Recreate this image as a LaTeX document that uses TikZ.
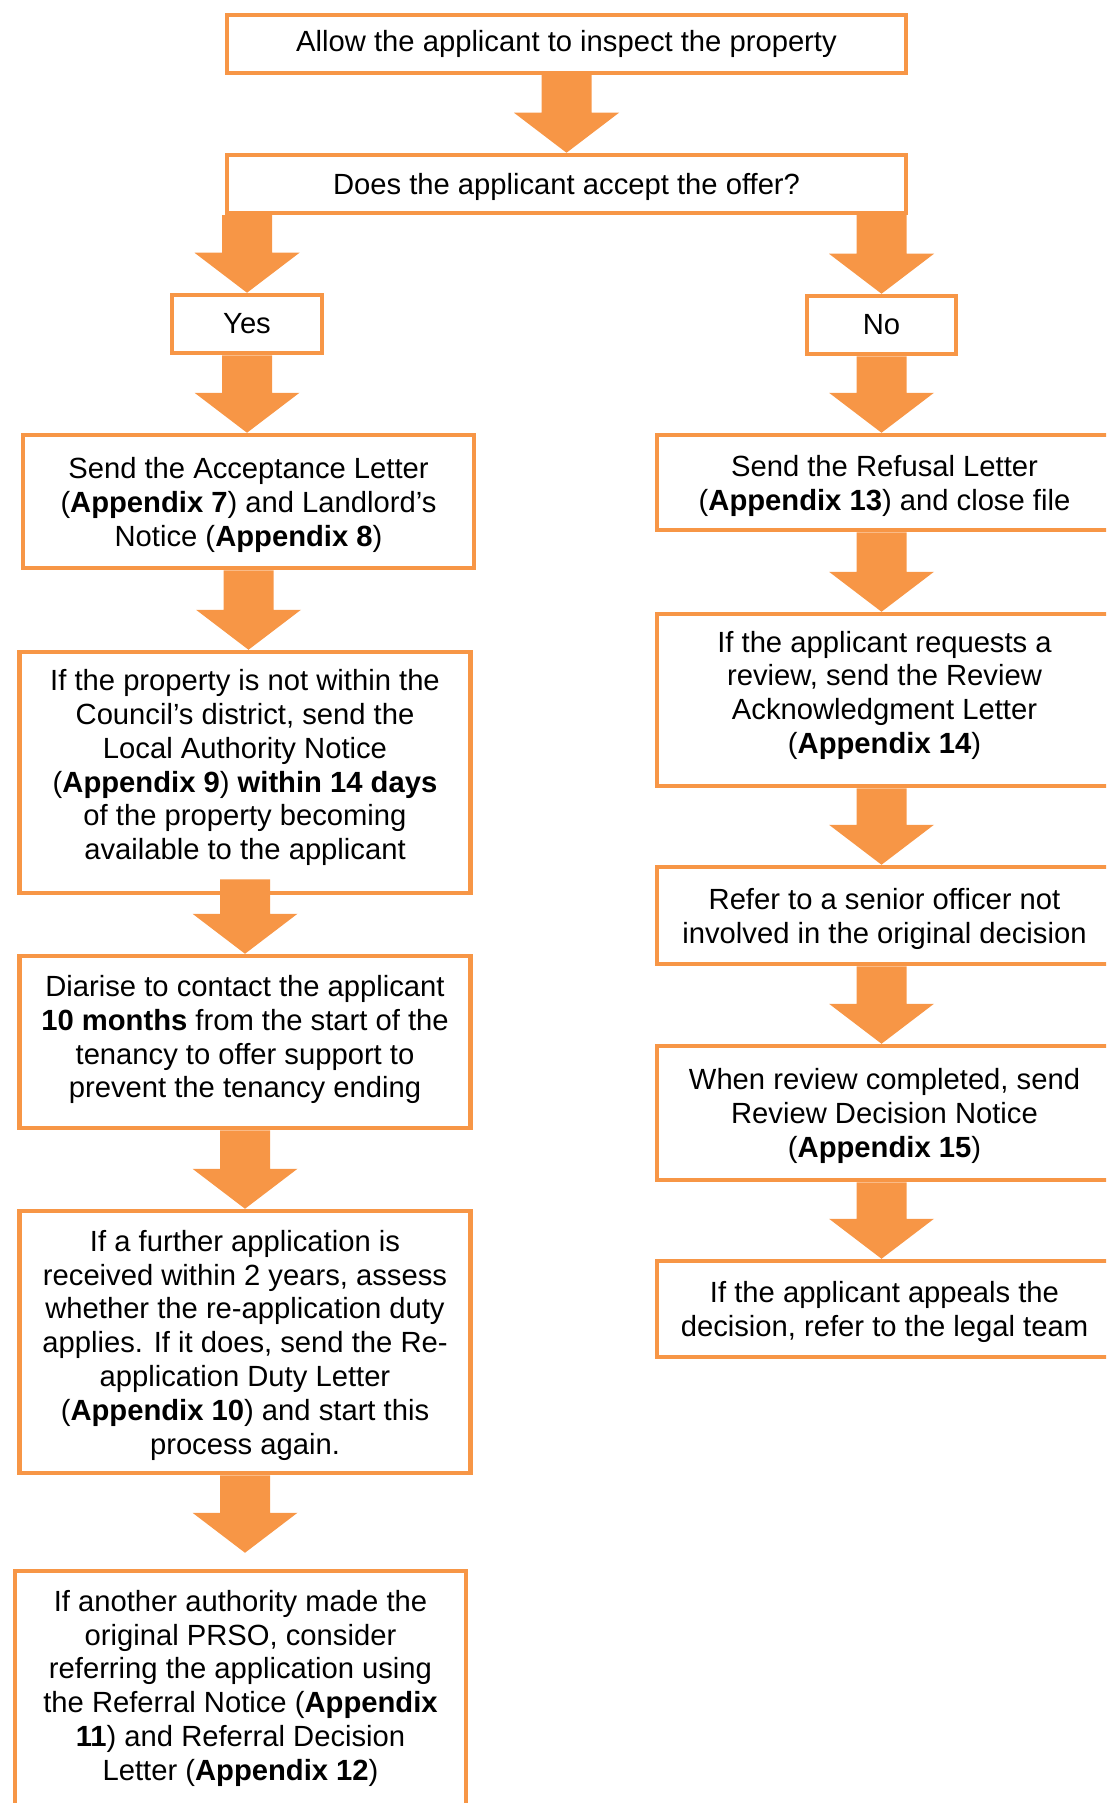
\documentclass[tikz,border=0pt]{standalone}
\usepackage{fontspec}
\setmainfont{Liberation Sans}
\usetikzlibrary{calc}
\definecolor{boxorange}{HTML}{F79646}
\newcommand{\textlift}[1]{\rule[-#1pt]{0pt}{#1pt}}
\newcommand{\textdrop}{\rule{0pt}{27.5pt}}

\tikzset{
  box/.style={draw=boxorange, line width=4.5pt, fill=white, align=center,
    inner sep=0pt, font=\fontsize{29.2}{33.8}\selectfont},
  step box/.style={box, minimum width=451pt},
  flow/.style={fill=boxorange, to path={let \p1=(\tikztostart), \p2=(\tikztotarget) in
    (\x1-25,\y1) -- (\x1-25,\y2+40) -- (\x1-52.5,\y2+40) -- (\x1,\y2)
    -- (\x1+52.5,\y2+40) -- (\x1+25,\y2+40) -- (\x1+25,\y1) -- cycle}}
}

\begin{document}
\begin{tikzpicture}[x=1pt,y=-1pt]
  \useasboundingbox (0,0) rectangle (1106,1803);
  \clip (0,0) rectangle (1106,1803);
  % top of the chart
  \node[box, minimum width=679pt, minimum height=58pt] (inspect) at (566.5,44) {Allow the applicant to inspect the property};
  \node[box, minimum width=679pt, minimum height=58pt] (offer) at (566.5,184) {\textdrop Does the applicant accept the offer?};
  \node[box, minimum width=150pt, minimum height=58pt] (yes) at (247,324) {Yes};
  \node[box, minimum width=149pt, minimum height=58pt] (no) at (881.5,325) {No};
  % yes side
  \node[step box, minimum height=133pt] (accept) at (248.5,501.5) {\textdrop Send the Acceptance Letter\\(\textbf{Appendix 7}) and Landlord’s\\Notice (\textbf{Appendix 8})};
  \node[step box, minimum height=241pt] (district) at (245,772.5) {\textdrop If the property is not within the\\Council’s district, send the\\Local Authority Notice\\(\textbf{Appendix 9}) \textbf{within 14 days}\\of the property becoming\\available to the applicant\textlift{22}};
  \node[step box, minimum height=172pt] (diarise) at (245,1042) {\textdrop Diarise to contact the applicant\\\textbf{10 months} from the start of the\\tenancy to offer support to\\prevent the tenancy ending\textlift{17}};
  \node[step box, minimum height=262pt] (reapply) at (245,1342) {\textdrop If a further application is\\received within 2 years, assess\\whether the re-application duty\\applies. If it does, send the Re-\\application Duty Letter\\(\textbf{Appendix 10}) and start this\\process again.};
  \node[step box, minimum height=246pt] (referral) at (240.5,1694) {\textdrop If another authority made the\\original PRSO, consider\\referring the application using\\the Referral Notice (\textbf{Appendix}\\\textbf{11}) and Referral Decision\\Letter (\textbf{Appendix 12})\textlift{24}};
  % no side, cut off at the right edge
  \node[step box, minimum width=455pt, minimum height=95pt] (refusal) at (884.5,482.5) {\textdrop Send the Refusal Letter\\(\textbf{Appendix 13}) and close file};
  \node[step box, minimum width=455pt, minimum height=172pt] (review) at (884.5,700) {\textdrop If the applicant requests a\\review, send the Review\\Acknowledgment Letter\\(\textbf{Appendix 14})\textlift{22}};
  \node[step box, minimum width=455pt, minimum height=97pt] (senior) at (884.5,915.5) {\textdrop Refer to a senior officer not\\involved in the original decision};
  \node[step box, minimum width=455pt, minimum height=134pt] (decision) at (884.5,1113) {\textdrop When review completed, send\\Review Decision Notice\\(\textbf{Appendix 15})};
  \node[step box, minimum width=455pt, minimum height=96pt] (appeal) at (884.5,1309) {\textdrop If the applicant appeals the\\decision, refer to the legal team};
  % block arrows
  \path[flow] (inspect.south) to (offer.north);
  \path[flow] (offer.south -| yes.north) to (yes.north);
  \path[flow] (offer.south -| no.north) to (no.north);
  \foreach \a/\b in {yes/accept, accept/district, diarise/reapply}
  \path[flow] (\a.south) to (\b.north);
  \foreach \a/\b in {no/refusal, refusal/review, review/senior, senior/decision, decision/appeal}
  \path[flow] (\a.south -| no.south) to (\b.north -| no.south);
  \path[flow] ([yshift=16pt]district.south) to (diarise.north);
  \path[flow] (reapply.south) to ([yshift=16pt]referral.north);
\end{tikzpicture}
\end{document}
